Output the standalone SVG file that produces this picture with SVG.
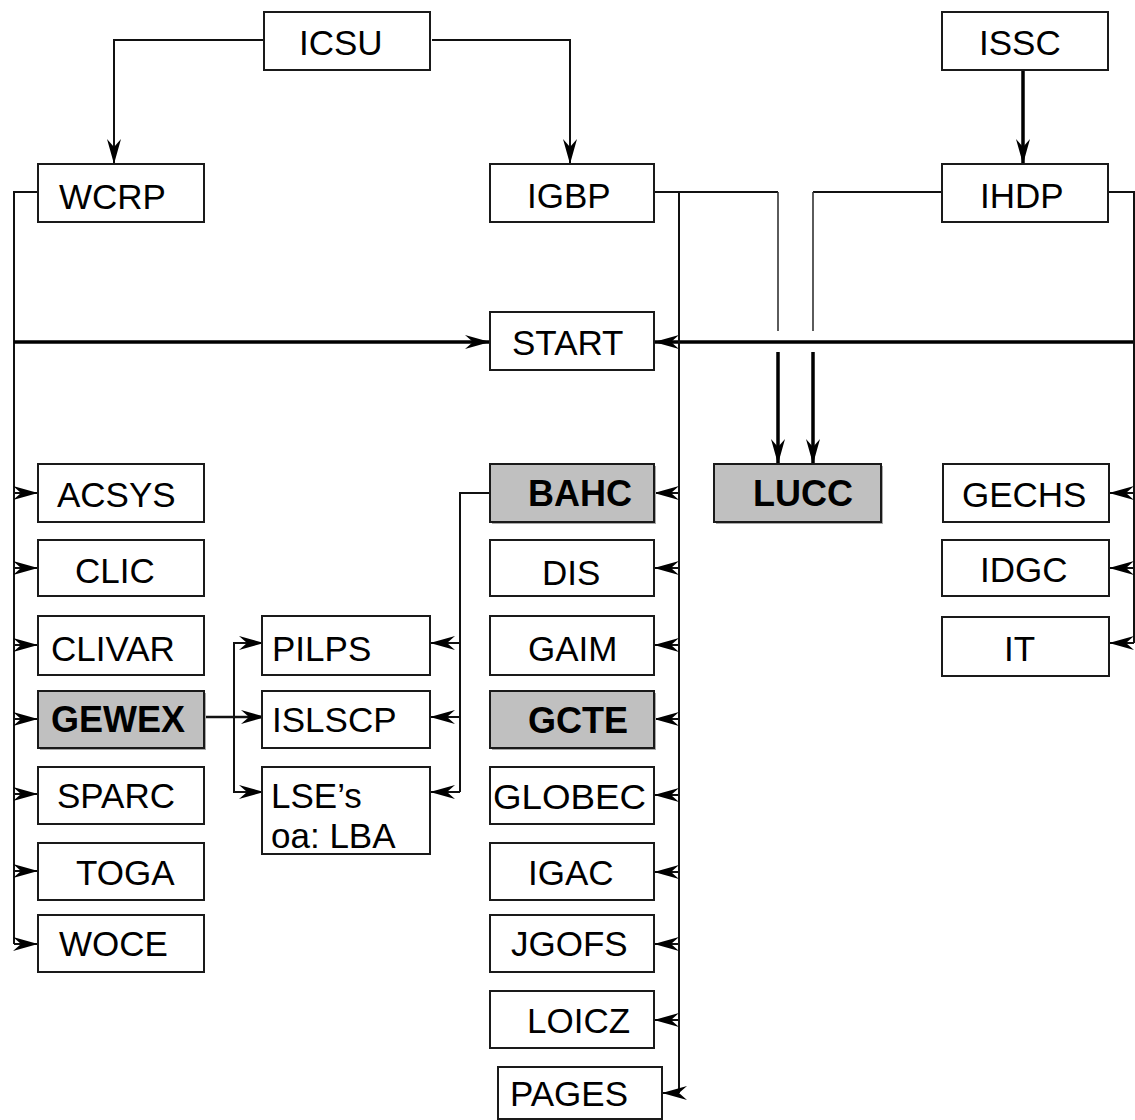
<svg xmlns="http://www.w3.org/2000/svg" width="1135" height="1120" viewBox="0 0 1135 1120">
<style>
.box{fill:#fff;stroke:#1a1a1a;stroke-width:2}
.gbox{fill:#c0c0c0;stroke:#1a1a1a;stroke-width:2}
.shadow{fill:#a9a9a9;stroke:none}
.t{font-family:"Liberation Sans",Arial,sans-serif;font-size:35px;fill:#000}
.b{font-family:"Liberation Sans",Arial,sans-serif;font-size:36px;font-weight:bold;fill:#000}
.ln{fill:none;stroke:#111;stroke-width:2}
.thin{fill:none;stroke:#333;stroke-width:1.6}
.thick{fill:none;stroke:#000;stroke-width:3.5}
.a{marker-end:url(#ah)}
</style>
<defs>
<marker id="ah" markerUnits="userSpaceOnUse" viewBox="-26 -8 27 16" refX="0" refY="0" markerWidth="27" markerHeight="16" orient="auto" overflow="visible">
<path d="M0,0 L-25,-7 L-17,0 L-25,7 Z" fill="#000"/>
</marker>
</defs>

<g id="connectors">
<path class="ln a" d="M264,40 H114 V164"/>
<path class="ln a" d="M432,40 H570 V164"/>
<path class="thick a" d="M1023,70 V164"/>
<path class="ln" d="M38,192 H14 V944"/>
<path class="ln a" d="M14,493 H38"/>
<path class="ln a" d="M14,568 H38"/>
<path class="ln a" d="M14,645 H38"/>
<path class="ln a" d="M14,719 H38"/>
<path class="ln a" d="M14,794 H38"/>
<path class="ln a" d="M14,871 H38"/>
<path class="ln a" d="M14,944 H38"/>
<path class="thick a" d="M14,342 H490"/>
<path class="thick a" d="M1134,342 H654"/>
<path class="ln" d="M1108,192 H1134 V643"/>
<path class="ln a" d="M1134,493 H1109"/>
<path class="ln a" d="M1134,568 H1109"/>
<path class="ln a" d="M1134,643 H1109"/>
<path class="ln" d="M654,192 H778"/>
<path class="thin" d="M778,192 V331"/>
<path class="thick a" d="M778,352 V464"/>
<path class="ln" d="M942,192 H813"/>
<path class="thin" d="M813,192 V331"/>
<path class="thick a" d="M813,352 V464"/>
<path class="ln" d="M679,192 V1093"/>
<path class="ln a" d="M679,493 H654"/>
<path class="ln a" d="M679,568 H654"/>
<path class="ln a" d="M679,645 H654"/>
<path class="ln a" d="M679,719 H654"/>
<path class="ln a" d="M679,795 H654"/>
<path class="ln a" d="M679,872 H654"/>
<path class="ln a" d="M679,944 H654"/>
<path class="ln a" d="M679,1020 H654"/>
<path class="ln a" d="M679,1093 H662"/>
<path class="ln" d="M490,493 H460 V792"/>
<path class="ln a" d="M460,643 H430"/>
<path class="ln a" d="M460,717 H430"/>
<path class="ln a" d="M460,792 H430"/>
<path class="ln a" style="stroke-width:2.6" d="M203,717 H266"/>
<path class="ln" d="M262,643 H234 V792 H262"/>
<path class="ln a" d="M234,643 H264"/>
<path class="ln a" d="M234,792 H264"/>
</g>

<g id="ICSU"><rect class="box" x="264" y="12" width="166" height="58"/><text class="t" x="299" y="55">ICSU</text></g>
<g id="ISSC"><rect class="box" x="942" y="12" width="166" height="58"/><text class="t" x="979" y="55">ISSC</text></g>
<g id="WCRP"><rect class="box" x="38" y="164" width="166" height="58"/><text class="t" x="59" y="209">WCRP</text></g>
<g id="IGBP"><rect class="box" x="490" y="164" width="164" height="58"/><text class="t" x="527" y="208">IGBP</text></g>
<g id="IHDP"><rect class="box" x="942" y="164" width="166" height="58"/><text class="t" x="980" y="208">IHDP</text></g>
<g id="START"><rect class="box" x="490" y="312" width="164" height="58"/><text class="t" x="512" y="355">START</text></g>

<g id="ACSYS"><rect class="box" x="38" y="464" width="166" height="58"/><text class="t" x="57" y="507">ACSYS</text></g>
<g id="CLIC"><rect class="box" x="38" y="540" width="166" height="56"/><text class="t" x="75" y="583">CLIC</text></g>
<g id="CLIVAR"><rect class="box" x="38" y="616" width="166" height="59"/><text class="t" x="51" y="661">CLIVAR</text></g>
<g id="GEWEX"><rect class="shadow" x="40" y="693" width="166" height="57"/><rect class="gbox" x="38" y="691" width="166" height="57"/><text class="b" x="51" y="732">GEWEX</text></g>
<g id="SPARC"><rect class="box" x="38" y="767" width="166" height="57"/><text class="t" x="57" y="808">SPARC</text></g>
<g id="TOGA"><rect class="box" x="38" y="843" width="166" height="57"/><text class="t" x="76" y="885">TOGA</text></g>
<g id="WOCE"><rect class="box" x="38" y="915" width="166" height="57"/><text class="t" x="59" y="956">WOCE</text></g>

<g id="PILPS"><rect class="box" x="262" y="616" width="168" height="59"/><text class="t" x="272" y="661">PILPS</text></g>
<g id="ISLSCP"><rect class="box" x="262" y="691" width="168" height="57"/><text class="t" x="272" y="732">ISLSCP</text></g>
<g id="LSE"><rect class="box" x="262" y="767" width="168" height="87"/><text class="t" x="271" y="808">LSE’s</text><text class="t" x="271" y="848">oa: LBA</text></g>

<g id="BAHC"><rect class="shadow" x="492" y="466" width="164" height="58"/><rect class="gbox" x="490" y="464" width="164" height="58"/><text class="b" x="528" y="506">BAHC</text></g>
<g id="DIS"><rect class="box" x="490" y="540" width="164" height="56"/><text class="t" x="542" y="585">DIS</text></g>
<g id="GAIM"><rect class="box" x="490" y="616" width="164" height="59"/><text class="t" x="528" y="661">GAIM</text></g>
<g id="GCTE"><rect class="shadow" x="492" y="693" width="164" height="57"/><rect class="gbox" x="490" y="691" width="164" height="57"/><text class="b" x="528" y="733">GCTE</text></g>
<g id="GLOBEC"><rect class="box" x="490" y="767" width="164" height="57"/><text class="t" x="493" y="809" textLength="153" lengthAdjust="spacingAndGlyphs">GLOBEC</text></g>
<g id="IGAC"><rect class="box" x="490" y="843" width="164" height="57"/><text class="t" x="528" y="885">IGAC</text></g>
<g id="JGOFS"><rect class="box" x="490" y="915" width="164" height="57"/><text class="t" x="511" y="956">JGOFS</text></g>
<g id="LOICZ"><rect class="box" x="490" y="991" width="164" height="57"/><text class="t" x="527" y="1033">LOICZ</text></g>
<g id="PAGES"><rect class="box" x="498" y="1067" width="164" height="52"/><text class="t" x="510" y="1106">PAGES</text></g>

<g id="LUCC"><rect class="shadow" x="716" y="466" width="167" height="58"/><rect class="gbox" x="714" y="464" width="167" height="58"/><text class="b" x="753" y="506">LUCC</text></g>

<g id="GECHS"><rect class="box" x="943" y="464" width="166" height="58"/><text class="t" x="962" y="507">GECHS</text></g>
<g id="IDGC"><rect class="box" x="942" y="540" width="167" height="56"/><text class="t" x="980" y="582">IDGC</text></g>
<g id="IT"><rect class="box" x="942" y="617" width="167" height="59"/><text class="t" x="1004" y="661">IT</text></g>
</svg>
